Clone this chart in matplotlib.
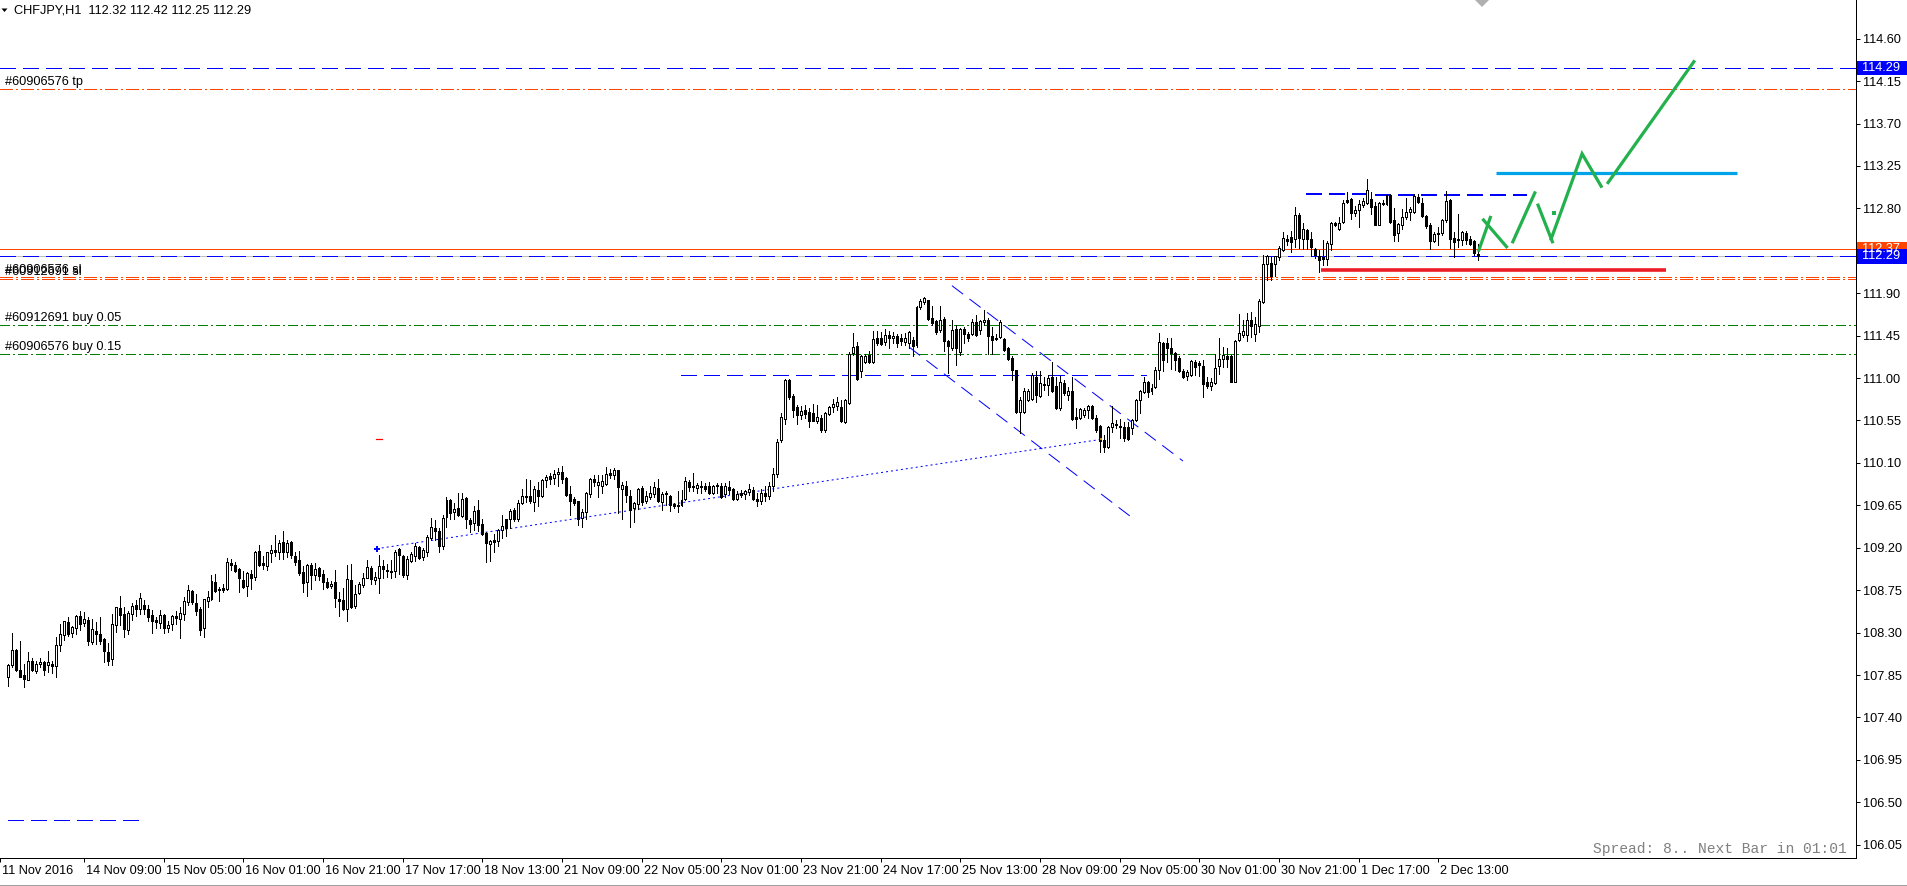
import numpy as np
import matplotlib
matplotlib.use('Agg')
import matplotlib.pyplot as plt
import matplotlib.transforms as mtransforms
from matplotlib.patches import Rectangle, Polygon

plt.rcParams['font.family'] = ['Liberation Sans', 'DejaVu Sans']
plt.rcParams['lines.scale_dashes'] = False

# ---------------- data: CHFJPY H1 bars (index 0 .. 369) ----------------
opens = [
107.83,107.96,108.12,107.90,107.85,107.80,108.00,107.89,107.97,107.99,
107.96,107.97,107.95,108.17,108.27,108.41,108.30,108.35,108.48,108.40,
108.43,108.20,108.32,108.29,108.23,108.09,108.02,108.38,108.56,108.50,
108.33,108.50,108.59,108.55,108.59,108.55,108.49,108.43,108.40,108.49,
108.35,108.39,108.48,108.44,108.50,108.62,108.74,108.61,108.55,108.35,
108.64,108.66,108.84,108.76,108.77,108.76,109.04,109.02,108.97,108.86,
108.79,108.92,108.89,109.17,109.04,109.01,109.14,109.18,109.16,109.26,
109.16,109.26,109.11,109.07,108.94,108.84,109.02,108.91,108.99,108.92,
108.84,108.79,108.84,108.66,108.65,108.55,108.86,108.58,108.72,108.81,
108.88,108.99,108.86,108.88,109.01,108.96,108.95,108.95,109.19,109.11,
108.91,109.06,109.11,109.21,109.10,109.16,109.30,109.41,109.38,109.22,
109.53,109.71,109.58,109.62,109.54,109.73,109.49,109.46,109.60,109.45,
109.36,109.24,109.28,109.27,109.39,109.50,109.51,109.60,109.50,109.68,
109.74,109.75,109.69,109.81,109.75,109.92,109.96,109.94,109.98,110.00,
109.94,109.77,109.72,109.70,109.52,109.58,109.77,109.93,109.87,109.86,
109.88,109.99,109.97,110.02,109.82,109.86,109.75,109.62,109.66,109.83,
109.70,109.74,109.77,109.83,109.69,109.78,109.75,109.66,109.65,109.65,
109.72,109.90,109.86,109.83,109.86,109.85,109.86,109.78,109.86,109.85,
109.77,109.84,109.82,109.72,109.78,109.77,109.79,109.81,109.72,109.70,
109.78,109.75,109.85,109.98,110.34,110.57,110.98,110.81,110.69,110.61,
110.66,110.64,110.63,110.54,110.58,110.45,110.62,110.69,110.70,110.69,
110.53,110.74,111.27,111.34,111.07,111.17,111.25,111.17,111.42,111.43,
111.38,111.46,111.43,111.45,111.43,111.38,111.37,111.40,111.35,111.75,
111.81,111.83,111.64,111.61,111.51,111.63,111.39,111.32,111.52,111.28,
111.52,111.47,111.47,111.60,111.51,111.60,111.62,111.45,111.42,111.44,
111.41,111.32,111.21,111.09,110.64,110.64,110.77,110.78,111.01,110.81,
110.94,110.93,111.01,110.92,110.68,110.95,110.82,110.86,110.59,110.58,
110.61,110.66,110.70,110.58,110.49,110.34,110.27,110.48,110.51,110.48,
110.48,110.48,110.47,110.55,110.77,110.85,110.96,110.86,110.90,111.09,
111.37,111.37,111.32,111.27,111.21,111.08,111.02,111.03,111.17,111.16,
111.13,110.96,110.92,110.95,111.13,111.20,111.23,111.23,110.96,111.40,
111.46,111.46,111.62,111.47,111.55,111.81,112.21,112.22,112.21,112.28,
112.36,112.48,112.50,112.48,112.73,112.48,112.57,112.47,112.37,112.30,
112.28,112.26,112.42,112.65,112.58,112.66,112.89,112.90,112.75,112.78,
112.84,112.86,112.90,112.83,112.62,112.85,112.85,112.94,112.68,112.54,
112.62,112.71,112.76,112.76,112.92,112.86,112.72,112.62,112.45,112.54,
112.54,112.68,112.89,112.49,112.47,112.46,112.54,112.47,112.45,112.32]

highs = [
107.97,108.30,108.13,108.21,107.97,108.09,108.03,108.00,108.03,108.00,
108.10,108.00,108.25,108.39,108.42,108.47,108.37,108.49,108.53,108.52,
108.47,108.44,108.41,108.47,108.24,108.19,108.50,108.57,108.69,108.57,
108.53,108.61,108.65,108.72,108.65,108.59,108.54,108.47,108.54,108.50,
108.42,108.49,108.53,108.57,108.68,108.81,108.75,108.71,108.57,108.66,
108.74,108.91,108.92,108.78,108.82,109.09,109.08,109.05,108.99,108.95,
108.94,108.96,109.17,109.23,109.11,109.16,109.23,109.34,109.28,109.38,
109.28,109.27,109.16,109.17,109.01,109.03,109.04,109.04,109.00,108.96,
108.88,108.85,108.96,108.73,108.77,109.02,109.03,108.81,108.84,108.93,
109.07,109.01,108.94,109.12,109.07,109.03,109.07,109.18,109.20,109.12,
109.11,109.16,109.25,109.22,109.20,109.34,109.52,109.49,109.41,109.55,
109.74,109.72,109.67,109.78,109.78,109.74,109.52,109.64,109.71,109.51,
109.37,109.28,109.35,109.40,109.55,109.51,109.61,109.62,109.71,109.82,
109.93,109.92,109.85,109.90,109.93,109.97,109.99,110.02,110.05,110.07,
109.95,109.85,109.74,109.70,109.61,109.79,109.94,109.97,109.97,109.97,
110.06,110.04,110.05,110.03,109.90,109.91,109.81,109.69,109.83,109.85,
109.80,109.85,109.90,109.93,109.79,109.80,109.76,109.67,109.80,109.81,
109.95,109.92,109.99,109.89,109.91,109.89,109.90,109.87,109.89,109.89,
109.89,109.91,109.83,109.80,109.81,109.81,109.88,109.84,109.78,109.82,
109.85,109.90,110.05,110.35,110.63,110.99,110.99,110.83,110.71,110.70,
110.71,110.68,110.73,110.71,110.61,110.64,110.70,110.78,110.80,110.77,
110.78,111.28,111.48,111.38,111.24,111.26,111.29,111.50,111.50,111.49,
111.52,111.50,111.49,111.47,111.47,111.48,111.50,111.44,111.76,111.84,
111.86,111.83,111.76,111.62,111.76,111.65,111.40,111.62,111.56,111.53,
111.54,111.49,111.63,111.67,111.62,111.72,111.64,111.54,111.47,111.62,
111.42,111.33,111.23,111.09,110.80,110.89,110.88,111.05,111.07,111.07,
111.01,111.03,111.17,111.01,111.02,110.98,110.91,111.01,110.68,110.68,
110.68,110.71,110.71,110.61,110.50,110.40,110.49,110.70,110.56,110.57,
110.53,110.53,110.57,110.78,110.87,111.01,110.97,110.94,111.12,111.48,
111.38,111.42,111.42,111.28,111.23,111.10,111.09,111.19,111.19,111.18,
111.19,111.01,111.00,111.26,111.42,111.33,111.32,111.24,111.40,111.68,
111.62,111.69,111.70,111.65,111.84,112.31,112.31,112.28,112.29,112.40,
112.55,112.52,112.56,112.82,112.75,112.64,112.58,112.55,112.38,112.36,
112.46,112.45,112.66,112.66,112.71,112.89,112.97,112.91,112.83,112.89,
112.91,113.11,112.97,112.87,112.87,112.89,112.95,112.95,112.80,112.65,
112.79,112.91,112.82,112.95,112.95,112.91,112.73,112.64,112.55,112.60,
112.69,112.98,112.90,112.55,112.74,112.56,112.56,112.51,112.46,112.42]

lows = [
107.73,107.94,107.89,107.83,107.72,107.80,107.89,107.87,107.94,107.85,
107.88,107.87,107.83,108.11,108.22,108.26,108.25,108.29,108.33,108.37,
108.17,108.18,108.18,108.18,107.99,107.96,107.96,108.31,108.38,108.25,
108.29,108.43,108.48,108.50,108.50,108.42,108.30,108.35,108.35,108.30,
108.31,108.33,108.39,108.24,108.43,108.59,108.60,108.49,108.27,108.25,
108.57,108.65,108.73,108.64,108.73,108.75,108.96,108.94,108.73,108.77,
108.69,108.76,108.86,109.01,108.97,108.96,109.05,109.11,109.08,109.08,
109.10,109.09,109.02,108.91,108.73,108.69,108.76,108.86,108.86,108.76,
108.77,108.77,108.57,108.48,108.54,108.42,108.56,108.56,108.71,108.78,
108.88,108.82,108.82,108.72,108.88,108.89,108.88,108.89,108.92,108.89,
108.87,109.05,109.06,109.08,109.07,109.11,109.28,109.28,109.15,109.19,
109.42,109.50,109.51,109.54,109.53,109.41,109.37,109.39,109.38,109.34,
109.05,109.06,109.16,109.22,109.30,109.33,109.41,109.48,109.48,109.66,
109.69,109.68,109.59,109.64,109.74,109.84,109.88,109.88,109.86,109.89,
109.75,109.55,109.65,109.44,109.42,109.51,109.74,109.86,109.74,109.78,
109.87,109.94,109.93,109.57,109.50,109.69,109.42,109.47,109.61,109.65,
109.68,109.72,109.74,109.69,109.60,109.65,109.59,109.62,109.58,109.64,
109.71,109.80,109.80,109.78,109.78,109.80,109.77,109.77,109.78,109.73,
109.74,109.77,109.71,109.71,109.74,109.72,109.76,109.71,109.64,109.66,
109.70,109.72,109.80,109.95,110.32,110.51,110.78,110.59,110.51,110.57,
110.58,110.48,110.54,110.52,110.43,110.43,110.61,110.64,110.66,110.53,
110.52,110.73,111.24,110.98,111.01,111.16,111.16,111.16,111.35,111.35,
111.35,111.32,111.37,111.33,111.35,111.35,111.32,111.23,111.33,111.73,
111.79,111.62,111.56,111.47,111.49,111.29,111.05,111.30,111.14,111.25,
111.37,111.39,111.46,111.45,111.47,111.56,111.26,111.26,111.40,111.42,
111.29,111.19,110.98,110.63,110.42,110.63,110.76,110.77,110.75,110.80,
110.87,110.82,110.85,110.67,110.66,110.82,110.77,110.55,110.47,110.57,
110.59,110.58,110.57,110.43,110.22,110.22,110.26,110.43,110.47,110.36,
110.33,110.34,110.41,110.54,110.63,110.84,110.80,110.83,110.89,110.99,
111.07,111.17,111.10,111.09,111.06,111.00,110.98,111.02,111.03,111.02,
110.80,110.89,110.87,110.94,111.04,111.12,111.12,110.96,110.96,111.39,
111.44,111.39,111.44,111.39,111.49,111.80,112.04,112.04,112.08,112.25,
112.35,112.41,112.34,112.39,112.38,112.37,112.37,112.29,112.27,112.12,
112.20,112.20,112.36,112.61,112.57,112.65,112.86,112.69,112.72,112.60,
112.82,112.85,112.74,112.62,112.62,112.84,112.84,112.64,112.45,112.45,
112.58,112.69,112.68,112.75,112.86,112.71,112.59,112.37,112.44,112.41,
112.52,112.66,112.38,112.28,112.39,112.41,112.42,112.41,112.31,112.25]

closes = [
107.96,108.12,107.90,107.83,107.81,108.00,107.90,107.97,107.99,107.90,
107.99,107.95,108.17,108.29,108.42,108.29,108.36,108.48,108.39,108.44,
108.21,108.34,108.29,108.21,108.10,108.00,108.39,108.57,108.49,108.34,
108.51,108.58,108.55,108.67,108.55,108.47,108.42,108.41,108.49,108.35,
108.38,108.48,108.45,108.51,108.63,108.75,108.62,108.53,108.33,108.66,
108.68,108.85,108.74,108.75,108.75,109.05,109.02,108.95,108.88,108.78,
108.93,108.88,109.15,109.02,109.02,109.15,109.18,109.15,109.25,109.15,
109.25,109.12,109.05,108.93,108.83,109.02,108.91,108.97,108.90,108.84,
108.78,108.82,108.67,108.63,108.55,108.87,108.57,108.71,108.82,108.88,
109.00,108.87,108.89,109.01,108.97,108.95,108.94,109.16,109.12,108.91,
109.08,109.13,109.22,109.09,109.18,109.31,109.42,109.38,109.22,109.52,
109.71,109.57,109.61,109.55,109.72,109.50,109.45,109.59,109.44,109.35,
109.25,109.27,109.26,109.39,109.43,109.41,109.59,109.50,109.67,109.75,
109.75,109.70,109.82,109.75,109.92,109.95,109.93,109.98,110.00,109.93,
109.76,109.70,109.68,109.51,109.58,109.78,109.93,109.90,109.90,109.91,
109.98,109.97,110.02,109.84,109.87,109.76,109.60,109.67,109.82,109.69,
109.75,109.78,109.84,109.70,109.77,109.77,109.65,109.64,109.64,109.71,
109.91,109.84,109.84,109.87,109.84,109.82,109.78,109.86,109.87,109.74,
109.85,109.81,109.72,109.77,109.76,109.80,109.82,109.72,109.70,109.78,
109.75,109.85,109.98,110.32,110.59,110.98,110.80,110.66,110.61,110.65,
110.62,110.54,110.54,110.59,110.45,110.63,110.69,110.72,110.75,110.54,
110.77,111.26,111.33,110.99,111.23,111.23,111.17,111.41,111.37,111.36,
111.46,111.42,111.45,111.37,111.39,111.42,111.49,111.34,111.75,111.82,
111.85,111.63,111.58,111.49,111.62,111.39,111.34,111.51,111.32,111.52,
111.47,111.43,111.59,111.46,111.61,111.62,111.45,111.40,111.41,111.60,
111.30,111.20,111.09,110.64,110.77,110.86,110.86,111.03,110.82,110.95,
110.93,111.00,110.86,110.68,110.96,110.84,110.86,110.57,110.57,110.67,
110.66,110.70,110.58,110.45,110.33,110.27,110.48,110.52,110.50,110.49,
110.36,110.35,110.55,110.77,110.86,110.96,110.85,110.89,111.09,111.38,
111.19,111.32,111.27,111.19,111.07,111.01,111.06,111.18,111.12,111.14,
110.94,110.92,110.96,111.11,111.20,111.24,111.20,110.96,111.39,111.48,
111.50,111.62,111.55,111.57,111.82,112.21,112.30,112.08,112.29,112.38,
112.49,112.45,112.44,112.73,112.49,112.58,112.48,112.39,112.31,112.25,
112.26,112.43,112.65,112.62,112.65,112.86,112.87,112.75,112.78,112.85,
112.88,112.99,112.81,112.62,112.86,112.86,112.94,112.66,112.52,112.63,
112.71,112.76,112.79,112.93,112.87,112.72,112.61,112.45,112.53,112.53,
112.68,112.88,112.48,112.44,112.46,112.55,112.46,112.42,112.33,112.29]

# time axis labels (bar index -> label)
time_tick_bars = [-2.1, 19, 39, 59, 79, 99, 119, 139, 159, 179, 199, 219, 239, 259,
                  279, 299, 319, 339, 359]
time_tick_labels = ['11 Nov 2016', '14 Nov 09:00', '15 Nov 05:00', '16 Nov 01:00',
                    '16 Nov 21:00', '17 Nov 17:00', '18 Nov 13:00', '21 Nov 09:00',
                    '22 Nov 05:00', '23 Nov 01:00', '23 Nov 21:00', '24 Nov 17:00',
                    '25 Nov 13:00', '28 Nov 09:00', '29 Nov 05:00', '30 Nov 01:00',
                    '30 Nov 21:00', '1 Dec 17:00', '2 Dec 13:00']
price_ticks = [106.05, 106.50, 106.95, 107.40, 107.85, 108.30, 108.75, 109.20, 109.65,
               110.10, 110.55, 111.00, 111.45, 111.90, 112.35, 112.80, 113.25, 113.70,
               114.15, 114.60]

# horizontal levels
level_top = 114.29
level_tp = 114.07
level_ask = 112.37
level_bid = 112.29
level_sl_a = 112.07
level_sl_b = 112.05
level_buy_005 = 111.56
level_buy_015 = 111.26

# drawn objects (bar index, price)
dotted_trend = ([92.5, 274.4], [109.19, 110.35])
flat_dash_111 = ([168.9, 285.6], [111.03, 111.03])
channel_upper = ([236.9, 294.9], [111.98, 110.12])
channel_lower = ([226.1, 282.1], [111.33, 109.52])
range_top = ([325.9, 381.1], [112.95, 112.94])
bottom_dash = ([-0.2, 33.4], [106.31, 106.31])
red_mark = ([92.4, 93.9], [110.35, 110.35])
red_support = ([329.6, 416.1], [112.15, 112.15])
cyan_target = ([373.6, 433.9], [113.18, 113.18])
green_strokes = [
    ([369.05, 372.2], [112.34, 112.72]),
    ([370.1, 376.4], [112.69, 112.38]),
    ([377.55, 383.4], [112.43, 112.98]),
    ([383.9, 387.8], [112.85, 112.43]),
    ([387.2, 395.1, 400.1], [112.46, 113.38, 113.02]),
    ([401.4, 423.4], [113.06, 114.37]),
]
green_dot = (388.05, 112.75)

header = 'CHFJPY,H1  112.32 112.42 112.25 112.29'

# ---------------- figure ----------------
W, H, DPI = 1908, 886, 100
FS = 9.2
fig = plt.figure(figsize=(W / DPI, H / DPI), dpi=DPI, facecolor='white')
PLOT_R = 1856.5
PLOT_B = 858.0
ax = fig.add_axes([0, (H - PLOT_B) / H, PLOT_R / W, PLOT_B / H])
ax.set_facecolor('white')

px_per_bar = 4.0
ax.set_xlim(-0.125, (PLOT_R - 0.5) / px_per_bar)
ppu = 94.27           # pixels per price unit
y_ref_px, y_ref_p = 38.7, 114.60
ax.set_ylim(y_ref_p - (PLOT_B - y_ref_px) / ppu, y_ref_p + y_ref_px / ppu)

PX = 0.72  # one pixel in points
BLUE = '#0000ff'
ORANGE = '#ff4500'
GREEN = '#008000'

# candles
o = np.array(opens); hh = np.array(highs); ll = np.array(lows); c = np.array(closes)
idx = np.arange(len(c))
ax.vlines(idx, ll, hh, color='black', lw=PX, zorder=4, antialiased=False)
up = c > o
ax.bar(idx[up], (c - o)[up], bottom=o[up], width=0.5, facecolor='white',
       edgecolor='black', linewidth=PX, zorder=5, antialiased=False)
ax.bar(idx[~up], (o - c)[~up], bottom=c[~up], width=0.5, facecolor='black',
       edgecolor='black', linewidth=PX, zorder=5, antialiased=False)

# horizontal lines
dash_blue = (0, (16 * PX, 8 * PX))
dashdot_or = (0, (12 * PX, 4 * PX, 2 * PX, 4 * PX))
dashdot_gr = (0, (10 * PX, 4 * PX, 2 * PX, 4 * PX))
hl = dict(lw=PX, zorder=2, antialiased=False)
ax.axhline(level_top, color=BLUE, ls=dash_blue, **hl)
ax.axhline(level_tp, color=ORANGE, ls=dashdot_or, **hl)
ax.axhline(level_ask, color=ORANGE, **hl)
ax.axhline(level_bid, color='#c0c0c0', **hl)
ax.axhline(level_bid, color=BLUE, ls=dash_blue, **hl)
ax.axhline(level_sl_a, color=ORANGE, ls=dashdot_or, **hl)
ax.axhline(level_sl_b, color=ORANGE, ls=dashdot_or, **hl)
ax.axhline(level_buy_005, color=GREEN, ls=dashdot_gr, **hl)
ax.axhline(level_buy_015, color=GREEN, ls=dashdot_gr, **hl)

# order labels
def order_label(txt, level):
    ax.annotate(txt, xy=(0, level), xycoords=('axes fraction', 'data'),
                xytext=(5 * PX, 7 * PX), textcoords='offset points',
                ha='left', va='center', fontsize=FS, color='black', zorder=7)

order_label('#60906576 tp', level_tp)
order_label('#60906576 sl', level_sl_a)
order_label('#60912691 sl', level_sl_b)
order_label('#60912691 buy 0.05', level_buy_005)
order_label('#60906576 buy 0.15', level_buy_015)

# trend objects
ax.plot(*dotted_trend, color=BLUE, lw=PX, ls=(0, (2 * PX, 3 * PX)), zorder=3)
ax.plot(dotted_trend[0][0], dotted_trend[1][0], marker='+', color=BLUE, ms=5,
        mew=1.4, zorder=6)
ax.plot(dotted_trend[0][1], dotted_trend[1][1], marker='s', color='#d09000', ms=2,
        mew=0, zorder=6)
for seg in (flat_dash_111, range_top, bottom_dash):
    ax.plot(*seg, color=BLUE, lw=PX, ls=dash_blue, zorder=3, antialiased=False)
for seg in (channel_upper, channel_lower):
    ax.plot(*seg, color=BLUE, lw=PX, ls=(0, (14 * PX, 8 * PX)), zorder=3)
ax.plot(*red_mark, color='#ff0000', lw=1.2 * PX, zorder=3)

# hand-drawn marks
ax.plot(*red_support, color='#ed1c24', lw=3.6 * PX, solid_capstyle='butt', zorder=6)
ax.plot(*cyan_target, color='#00a2e8', lw=3.2 * PX, solid_capstyle='butt', zorder=6)
for xs, ys in green_strokes:
    ax.plot(xs, ys, color='#22b14c', lw=3.2 * PX, solid_capstyle='butt',
            solid_joinstyle='miter', zorder=6)
ax.plot(*green_dot, marker='s', color='#22b14c', ms=2.5, mew=0, zorder=6)

# axes styling
for s in ('top', 'left'):
    ax.spines[s].set_visible(False)
for s in ('right', 'bottom'):
    ax.spines[s].set_linewidth(PX)
    ax.spines[s].set_color('black')

ax.yaxis.tick_right()
ax.set_yticks(price_ticks)
ax.set_yticklabels(['%.2f' % v for v in price_ticks])
ax.tick_params(axis='y', right=True, left=False, direction='out', length=4 * PX,
               width=PX, pad=3 * PX, labelsize=FS, colors='black')
ax.set_xticks(time_tick_bars)
ax.set_xticklabels([''] * len(time_tick_bars))
ax.tick_params(axis='x', direction='out', length=4 * PX, width=PX, bottom=True)
for pos, lab in zip(time_tick_bars, time_tick_labels):
    ax.annotate(lab, xy=(pos, 0), xycoords=('data', 'axes fraction'),
                xytext=(2 * PX, -13 * PX), textcoords='offset points',
                ha='left', va='center', fontsize=FS, annotation_clip=False)

# price boxes on the right scale
btr = mtransforms.blended_transform_factory(fig.transFigure, ax.transData)
box_h = 14.5 / ppu
for level, col, txt in ((level_top, BLUE, '%.2f' % level_top),
                        (level_ask, ORANGE, '%.2f' % level_ask),
                        (level_bid, BLUE, '%.2f' % level_bid)):
    ax.add_patch(Rectangle(((PLOT_R + 1) / W, level - box_h / 2), 50.5 / W, box_h,
                           transform=btr, facecolor=col, edgecolor='none',
                           clip_on=False, zorder=8))
    ax.text((PLOT_R + 6.0) / W, level, txt, transform=btr, ha='left', va='center',
            fontsize=FS, color='white', clip_on=False, zorder=9)

# header
fig.text(14 / W, 1 - 10.5 / H, header, ha='left', va='center', fontsize=FS)
fig.add_artist(Polygon([(1.5 / W, 1 - 8.5 / H), (7.5 / W, 1 - 8.5 / H),
                        (4.5 / W, 1 - 12 / H)], closed=True, transform=fig.transFigure,
                       facecolor='black', edgecolor='none'))
# chart shift marker
fig.add_artist(Polygon([(1475 / W, 1.0), (1489 / W, 1.0), (1482 / W, 1 - 7 / H)],
                       closed=True, transform=fig.transFigure,
                       facecolor='#b0b0b0', edgecolor='none'))

# spread info
fig.text(1847 / W, 1 - 849 / H, 'Spread: 8.. Next Bar in 01:01', ha='right',
         va='center', fontsize=10.5, family='Liberation Mono', color='#808080')

# window bottom edge
fig.add_artist(plt.Line2D([0, 1], [1 - 884.5 / H, 1 - 884.5 / H],
                          transform=fig.transFigure, color='#a0a0a0', lw=PX))

fig.savefig('out.png', dpi=DPI, facecolor='white')
